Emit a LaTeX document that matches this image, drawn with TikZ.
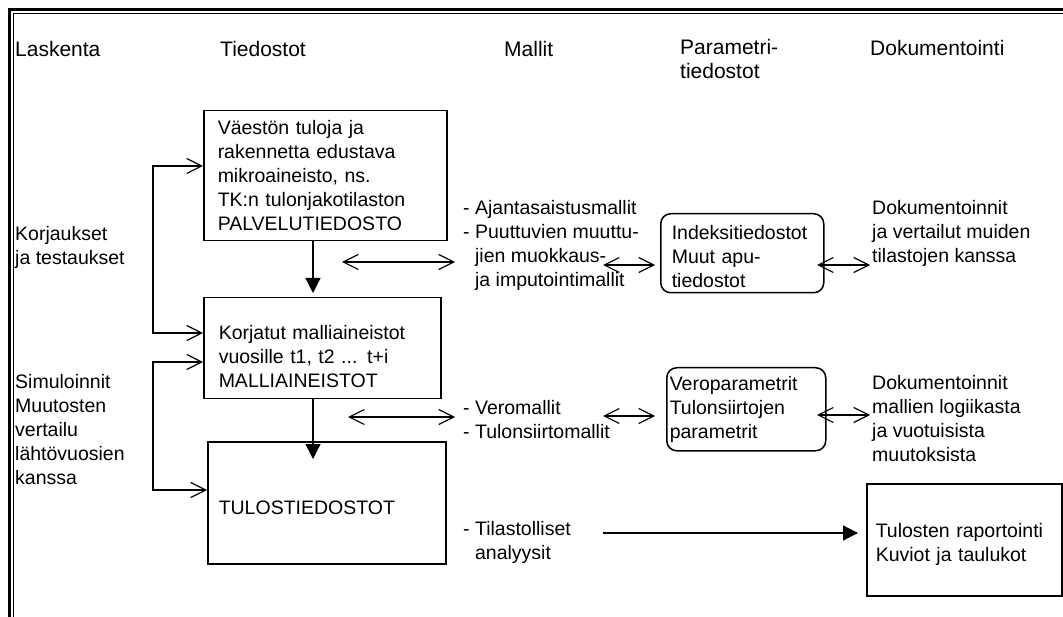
\documentclass[tikz,border=0pt]{standalone}
\usepackage{fontspec}
\setmainfont{Liberation Sans}
\usetikzlibrary{arrows.meta}

\tikzset{
  txt/.style={anchor=north west, inner sep=0pt, align=left, execute at begin node=\strut},
  hdr/.style={txt, font=\fontsize{21}{24}\selectfont},
  filebox/.style={draw, line width=1.5pt, anchor=north west, align=left, inner ysep=0pt},
  parbox/.style={filebox, rounded corners=10pt},
  drop/.style={execute at begin node={\rule{0pt}{#1}}},
  dbarb/.style={line width=1.2pt, {Straight Barb[length=15pt,width=15pt]}-{Straight Barb[length=15pt,width=15pt]}},
  tri/.style={line width=1.2pt, -{Triangle[length=15pt,width=15pt]}}
}

\begin{document}
\begin{tikzpicture}[x=1pt, y=-1pt, font=\fontsize{19.5}{24}\selectfont]

  \useasboundingbox (0,0) rectangle (1063,617);

  % Frame:
  \draw[line width=2.5pt] (9.5,617) -- (9.5,9.5) -- (1063,9.5);
  \draw[line width=1.5pt] (13.5,617) -- (13.5,13.5) -- (1063,13.5);

  % Headers:
  \node[hdr] (hlask) at (15,40) {Laskenta};
  \node[hdr] (htied) at (220,40) {Tiedostot};
  \node[hdr] (hmall) at (504,40) {Mallit};
  \node[hdr] (hpar) at (680,39) {Parametri-\\tiedostot};
  \node[hdr] (hdok) at (870,39) {Dokumentointi};

  % Left column:
  \node[txt] (korj) at (15,226) {Korjaukset\\ja testaukset};
  \node[txt] (sim) at (15,374) {Simuloinnit\\Muutosten\\vertailu\\lähtövuosien\\kanssa};

  % Files:
  \node[filebox, minimum height=130pt, inner xsep=14pt, text width=215pt] (palv) at (203,110)
    {Väestön tuloja ja\\rakennetta edustava\\mikroaineisto, ns.\\TK:n tulonjakotilaston\\PALVELUTIEDOSTO};
  \node[filebox, drop=30pt, minimum height=101pt, inner xsep=15pt, text width=207pt] (mall) at (203,297)
    {Korjatut malliaineistot\\vuosille t1, t2 ... t+i\\MALLIAINEISTOT};
  \node[filebox, drop=24pt, minimum height=122pt, inner xsep=11pt, text width=216pt] (tulos) at (207,441)
    {TULOSTIEDOSTOT};

  % Models:
  \node[txt] (ajan) at (463,200)
    {- Ajantasaistusmallit\\- Puuttuvien muuttu-\\\phantom{- }jien muokkaus-\\\phantom{- }ja imputointimallit};
  \node[txt] (vero) at (463,400) {- Veromallit\\- Tulonsiirtomallit};
  \node[txt] (tilas) at (463,521) {- Tilastolliset\\\phantom{- }analyysit};

  % Parameter files:
  \node[parbox, drop=20pt, minimum height=79pt, inner xsep=11pt, text width=141pt] (indeksi) at (660,213)
    {Indeksitiedostot\\Muut apu-\\tiedostot};
  \node[parbox, minimum height=83pt, inner xsep=3pt, text width=153pt] (vpar) at (666,367)
    {Veroparametrit\\Tulonsiirtojen\\parametrit};

  % Documentation:
  \node[txt] (dok1) at (872,200) {Dokumentoinnit\\ja vertailut muiden\\tilastojen kanssa};
  \node[txt] (dok2) at (872,375) {Dokumentoinnit\\mallien logiikasta\\ja vuotuisista\\muutoksista};
  \node[filebox, drop=24pt, minimum height=112pt, inner xsep=9pt, text width=177pt] (rap) at (866,483)
    {Tulosten raportointi\\Kuviot ja taulukot};

  % Connections:
  \coordinate (fb1) at (153,166);
  \coordinate (fb2) at (153,333);
  \coordinate (fb3) at (153,362);
  \coordinate (fb4) at (153,490);
  \draw[dbarb] (fb1 -| palv.west) -- (fb1) -- (fb2) -- (fb2 -| mall.west);
  \draw[dbarb] (fb3 -| mall.west) -- (fb3) -- (fb4) -- (fb4 -| tulos.west);

  \coordinate (dx) at (313,0);
  \draw[tri, shorten >=4pt] (dx |- palv.south) -- (dx |- mall.north);
  \draw[tri, shorten >=-18pt] (dx |- mall.south) -- (dx |- tulos.north);

  \coordinate (a1l) at (342,262); \coordinate (a1r) at (455,262);
  \coordinate (a2l) at (603,265); \coordinate (a2r) at (655,265);
  \coordinate (a3l) at (817,265); \coordinate (a3r) at (870,265);
  \draw[dbarb] (a1l) -- (a1r);
  \draw[dbarb] (a2l) -- (a2r);
  \draw[dbarb] (a3l) -- (a3r);

  \coordinate (b1l) at (348,417); \coordinate (b1r) at (455,417);
  \coordinate (b2l) at (603,416); \coordinate (b2r) at (655,416);
  \coordinate (b3l) at (817,415); \coordinate (b3r) at (870,415);
  \draw[dbarb] (b1l) -- (b1r);
  \draw[dbarb] (b2l) -- (b2r);
  \draw[dbarb] (b3l) -- (b3r);

  \coordinate (c1) at (603,533);
  \draw[tri, shorten >=8pt] (c1) -- (c1 -| rap.west);

\end{tikzpicture}
\end{document}
